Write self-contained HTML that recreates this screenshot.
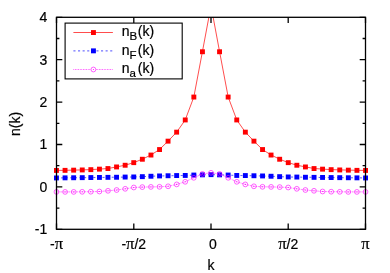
<!DOCTYPE html>
<html><head><meta charset="utf-8"><title>n(k)</title>
<style>
html,body{margin:0;padding:0;background:#fff;}
svg{display:block;will-change:transform;}
text{font-family:"Liberation Sans",sans-serif;font-size:14px;fill:#000;stroke:#000;stroke-width:0.2px;}
.sym{font-family:"Liberation Serif",serif;font-size:16.5px;}
</style></head><body>
<svg width="390" height="273" viewBox="0 0 390 273">
<rect width="390" height="273" fill="#fff"/>
<defs><clipPath id="c"><rect x="56.5" y="17.3" width="309.0" height="212.0"/></clipPath></defs>

<g clip-path="url(#c)">
<polyline points="56.5,170.4 65.1,170.3 73.7,170.1 82.2,169.9 90.8,169.6 99.4,169.1 108.0,168.5 116.6,166.9 125.2,165.2 133.8,162.6 142.3,159.2 150.9,155.0 159.5,149.5 168.1,141.1 176.7,132.1 185.2,120.0 193.8,97.1 202.4,51.8 211.0,5.8 219.6,51.8 228.2,97.1 236.8,120.0 245.3,132.1 253.9,141.1 262.5,149.5 271.1,155.0 279.7,159.2 288.2,162.6 296.8,165.2 305.4,166.9 314.0,168.5 322.6,169.1 331.2,169.6 339.8,169.9 348.3,170.1 356.9,170.3 365.5,170.4" fill="none" stroke="#f00" stroke-width="0.7"/>
</g>
<rect x="54.0" y="168.0" width="4.9" height="4.9" fill="#f00"/>
<rect x="62.6" y="167.9" width="4.9" height="4.9" fill="#f00"/>
<rect x="71.2" y="167.7" width="4.9" height="4.9" fill="#f00"/>
<rect x="79.8" y="167.5" width="4.9" height="4.9" fill="#f00"/>
<rect x="88.4" y="167.2" width="4.9" height="4.9" fill="#f00"/>
<rect x="97.0" y="166.7" width="4.9" height="4.9" fill="#f00"/>
<rect x="105.5" y="166.1" width="4.9" height="4.9" fill="#f00"/>
<rect x="114.1" y="164.5" width="4.9" height="4.9" fill="#f00"/>
<rect x="122.7" y="162.8" width="4.9" height="4.9" fill="#f00"/>
<rect x="131.3" y="160.2" width="4.9" height="4.9" fill="#f00"/>
<rect x="139.9" y="156.8" width="4.9" height="4.9" fill="#f00"/>
<rect x="148.5" y="152.6" width="4.9" height="4.9" fill="#f00"/>
<rect x="157.1" y="147.1" width="4.9" height="4.9" fill="#f00"/>
<rect x="165.6" y="138.7" width="4.9" height="4.9" fill="#f00"/>
<rect x="174.2" y="129.7" width="4.9" height="4.9" fill="#f00"/>
<rect x="182.8" y="117.5" width="4.9" height="4.9" fill="#f00"/>
<rect x="191.4" y="94.6" width="4.9" height="4.9" fill="#f00"/>
<rect x="200.0" y="49.3" width="4.9" height="4.9" fill="#f00"/>
<rect x="217.1" y="49.3" width="4.9" height="4.9" fill="#f00"/>
<rect x="225.7" y="94.6" width="4.9" height="4.9" fill="#f00"/>
<rect x="234.3" y="117.5" width="4.9" height="4.9" fill="#f00"/>
<rect x="242.9" y="129.7" width="4.9" height="4.9" fill="#f00"/>
<rect x="251.5" y="138.7" width="4.9" height="4.9" fill="#f00"/>
<rect x="260.1" y="147.1" width="4.9" height="4.9" fill="#f00"/>
<rect x="268.6" y="152.6" width="4.9" height="4.9" fill="#f00"/>
<rect x="277.2" y="156.8" width="4.9" height="4.9" fill="#f00"/>
<rect x="285.8" y="160.2" width="4.9" height="4.9" fill="#f00"/>
<rect x="294.4" y="162.8" width="4.9" height="4.9" fill="#f00"/>
<rect x="303.0" y="164.5" width="4.9" height="4.9" fill="#f00"/>
<rect x="311.6" y="166.1" width="4.9" height="4.9" fill="#f00"/>
<rect x="320.1" y="166.7" width="4.9" height="4.9" fill="#f00"/>
<rect x="328.7" y="167.2" width="4.9" height="4.9" fill="#f00"/>
<rect x="337.3" y="167.5" width="4.9" height="4.9" fill="#f00"/>
<rect x="345.9" y="167.7" width="4.9" height="4.9" fill="#f00"/>
<rect x="354.5" y="167.9" width="4.9" height="4.9" fill="#f00"/>
<rect x="363.1" y="168.0" width="4.9" height="4.9" fill="#f00"/>
<polyline points="56.5,178.0 65.1,177.8 73.7,177.8 82.2,177.7 90.8,177.6 99.4,177.5 108.0,177.3 116.6,177.2 125.2,177.1 133.8,177.0 142.3,176.7 150.9,176.2 159.5,176.0 168.1,175.8 176.7,175.6 185.2,175.5 193.8,175.1 202.4,174.8 211.0,174.7 219.6,174.8 228.2,175.1 236.8,175.5 245.3,175.6 253.9,175.8 262.5,176.0 271.1,176.2 279.7,176.7 288.2,177.0 296.8,177.1 305.4,177.2 314.0,177.3 322.6,177.5 331.2,177.6 339.8,177.7 348.3,177.8 356.9,177.8 365.5,178.0" fill="none" stroke="#00f" stroke-width="0.65" stroke-dasharray="2.1 2.5"/>
<rect x="54.0" y="175.5" width="4.9" height="4.9" fill="#00f"/>
<rect x="62.6" y="175.4" width="4.9" height="4.9" fill="#00f"/>
<rect x="71.2" y="175.3" width="4.9" height="4.9" fill="#00f"/>
<rect x="79.8" y="175.2" width="4.9" height="4.9" fill="#00f"/>
<rect x="88.4" y="175.1" width="4.9" height="4.9" fill="#00f"/>
<rect x="97.0" y="175.0" width="4.9" height="4.9" fill="#00f"/>
<rect x="105.5" y="174.9" width="4.9" height="4.9" fill="#00f"/>
<rect x="114.1" y="174.8" width="4.9" height="4.9" fill="#00f"/>
<rect x="122.7" y="174.6" width="4.9" height="4.9" fill="#00f"/>
<rect x="131.3" y="174.5" width="4.9" height="4.9" fill="#00f"/>
<rect x="139.9" y="174.2" width="4.9" height="4.9" fill="#00f"/>
<rect x="148.5" y="173.8" width="4.9" height="4.9" fill="#00f"/>
<rect x="157.1" y="173.5" width="4.9" height="4.9" fill="#00f"/>
<rect x="165.6" y="173.3" width="4.9" height="4.9" fill="#00f"/>
<rect x="174.2" y="173.1" width="4.9" height="4.9" fill="#00f"/>
<rect x="182.8" y="173.0" width="4.9" height="4.9" fill="#00f"/>
<rect x="191.4" y="172.6" width="4.9" height="4.9" fill="#00f"/>
<rect x="200.0" y="172.4" width="4.9" height="4.9" fill="#00f"/>
<rect x="208.6" y="172.2" width="4.9" height="4.9" fill="#00f"/>
<rect x="217.1" y="172.4" width="4.9" height="4.9" fill="#00f"/>
<rect x="225.7" y="172.6" width="4.9" height="4.9" fill="#00f"/>
<rect x="234.3" y="173.0" width="4.9" height="4.9" fill="#00f"/>
<rect x="242.9" y="173.1" width="4.9" height="4.9" fill="#00f"/>
<rect x="251.5" y="173.3" width="4.9" height="4.9" fill="#00f"/>
<rect x="260.1" y="173.5" width="4.9" height="4.9" fill="#00f"/>
<rect x="268.6" y="173.8" width="4.9" height="4.9" fill="#00f"/>
<rect x="277.2" y="174.2" width="4.9" height="4.9" fill="#00f"/>
<rect x="285.8" y="174.5" width="4.9" height="4.9" fill="#00f"/>
<rect x="294.4" y="174.6" width="4.9" height="4.9" fill="#00f"/>
<rect x="303.0" y="174.8" width="4.9" height="4.9" fill="#00f"/>
<rect x="311.6" y="174.9" width="4.9" height="4.9" fill="#00f"/>
<rect x="320.1" y="175.0" width="4.9" height="4.9" fill="#00f"/>
<rect x="328.7" y="175.1" width="4.9" height="4.9" fill="#00f"/>
<rect x="337.3" y="175.2" width="4.9" height="4.9" fill="#00f"/>
<rect x="345.9" y="175.3" width="4.9" height="4.9" fill="#00f"/>
<rect x="354.5" y="175.4" width="4.9" height="4.9" fill="#00f"/>
<rect x="363.1" y="175.5" width="4.9" height="4.9" fill="#00f"/>
<polyline points="56.5,191.9 65.1,191.9 73.7,191.9 82.2,191.8 90.8,191.7 99.4,191.5 108.0,190.8 116.6,190.0 125.2,188.8 133.8,187.5 142.3,187.1 150.9,186.9 159.5,186.8 168.1,186.3 176.7,184.4 185.2,181.8 193.8,177.8 202.4,173.9 211.0,172.8 219.6,173.9 228.2,177.8 236.8,181.8 245.3,184.4 253.9,186.3 262.5,186.8 271.1,186.9 279.7,187.1 288.2,187.5 296.8,188.8 305.4,190.0 314.0,190.8 322.6,191.5 331.2,191.7 339.8,191.8 348.3,191.9 356.9,191.9 365.5,191.9" fill="none" stroke="#f0f" stroke-width="0.7" stroke-dasharray="0.8 0.8"/>
<circle cx="56.5" cy="191.9" r="2.4" fill="none" stroke="#f0f" stroke-width="0.62"/><circle cx="56.5" cy="191.9" r="0.55" fill="#f0f"/>
<circle cx="65.1" cy="191.9" r="2.4" fill="none" stroke="#f0f" stroke-width="0.62"/><circle cx="65.1" cy="191.9" r="0.55" fill="#f0f"/>
<circle cx="73.7" cy="191.9" r="2.4" fill="none" stroke="#f0f" stroke-width="0.62"/><circle cx="73.7" cy="191.9" r="0.55" fill="#f0f"/>
<circle cx="82.2" cy="191.8" r="2.4" fill="none" stroke="#f0f" stroke-width="0.62"/><circle cx="82.2" cy="191.8" r="0.55" fill="#f0f"/>
<circle cx="90.8" cy="191.7" r="2.4" fill="none" stroke="#f0f" stroke-width="0.62"/><circle cx="90.8" cy="191.7" r="0.55" fill="#f0f"/>
<circle cx="99.4" cy="191.5" r="2.4" fill="none" stroke="#f0f" stroke-width="0.62"/><circle cx="99.4" cy="191.5" r="0.55" fill="#f0f"/>
<circle cx="108.0" cy="190.8" r="2.4" fill="none" stroke="#f0f" stroke-width="0.62"/><circle cx="108.0" cy="190.8" r="0.55" fill="#f0f"/>
<circle cx="116.6" cy="190.0" r="2.4" fill="none" stroke="#f0f" stroke-width="0.62"/><circle cx="116.6" cy="190.0" r="0.55" fill="#f0f"/>
<circle cx="125.2" cy="188.8" r="2.4" fill="none" stroke="#f0f" stroke-width="0.62"/><circle cx="125.2" cy="188.8" r="0.55" fill="#f0f"/>
<circle cx="133.8" cy="187.5" r="2.4" fill="none" stroke="#f0f" stroke-width="0.62"/><circle cx="133.8" cy="187.5" r="0.55" fill="#f0f"/>
<circle cx="142.3" cy="187.1" r="2.4" fill="none" stroke="#f0f" stroke-width="0.62"/><circle cx="142.3" cy="187.1" r="0.55" fill="#f0f"/>
<circle cx="150.9" cy="186.9" r="2.4" fill="none" stroke="#f0f" stroke-width="0.62"/><circle cx="150.9" cy="186.9" r="0.55" fill="#f0f"/>
<circle cx="159.5" cy="186.8" r="2.4" fill="none" stroke="#f0f" stroke-width="0.62"/><circle cx="159.5" cy="186.8" r="0.55" fill="#f0f"/>
<circle cx="168.1" cy="186.3" r="2.4" fill="none" stroke="#f0f" stroke-width="0.62"/><circle cx="168.1" cy="186.3" r="0.55" fill="#f0f"/>
<circle cx="176.7" cy="184.4" r="2.4" fill="none" stroke="#f0f" stroke-width="0.62"/><circle cx="176.7" cy="184.4" r="0.55" fill="#f0f"/>
<circle cx="185.2" cy="181.8" r="2.4" fill="none" stroke="#f0f" stroke-width="0.62"/><circle cx="185.2" cy="181.8" r="0.55" fill="#f0f"/>
<circle cx="193.8" cy="177.8" r="2.4" fill="none" stroke="#f0f" stroke-width="0.62"/><circle cx="193.8" cy="177.8" r="0.55" fill="#f0f"/>
<circle cx="202.4" cy="173.9" r="2.4" fill="none" stroke="#f0f" stroke-width="0.62"/><circle cx="202.4" cy="173.9" r="0.55" fill="#f0f"/>
<circle cx="211.0" cy="172.8" r="2.4" fill="none" stroke="#f0f" stroke-width="0.62"/><circle cx="211.0" cy="172.8" r="0.55" fill="#f0f"/>
<circle cx="219.6" cy="173.9" r="2.4" fill="none" stroke="#f0f" stroke-width="0.62"/><circle cx="219.6" cy="173.9" r="0.55" fill="#f0f"/>
<circle cx="228.2" cy="177.8" r="2.4" fill="none" stroke="#f0f" stroke-width="0.62"/><circle cx="228.2" cy="177.8" r="0.55" fill="#f0f"/>
<circle cx="236.8" cy="181.8" r="2.4" fill="none" stroke="#f0f" stroke-width="0.62"/><circle cx="236.8" cy="181.8" r="0.55" fill="#f0f"/>
<circle cx="245.3" cy="184.4" r="2.4" fill="none" stroke="#f0f" stroke-width="0.62"/><circle cx="245.3" cy="184.4" r="0.55" fill="#f0f"/>
<circle cx="253.9" cy="186.3" r="2.4" fill="none" stroke="#f0f" stroke-width="0.62"/><circle cx="253.9" cy="186.3" r="0.55" fill="#f0f"/>
<circle cx="262.5" cy="186.8" r="2.4" fill="none" stroke="#f0f" stroke-width="0.62"/><circle cx="262.5" cy="186.8" r="0.55" fill="#f0f"/>
<circle cx="271.1" cy="186.9" r="2.4" fill="none" stroke="#f0f" stroke-width="0.62"/><circle cx="271.1" cy="186.9" r="0.55" fill="#f0f"/>
<circle cx="279.7" cy="187.1" r="2.4" fill="none" stroke="#f0f" stroke-width="0.62"/><circle cx="279.7" cy="187.1" r="0.55" fill="#f0f"/>
<circle cx="288.2" cy="187.5" r="2.4" fill="none" stroke="#f0f" stroke-width="0.62"/><circle cx="288.2" cy="187.5" r="0.55" fill="#f0f"/>
<circle cx="296.8" cy="188.8" r="2.4" fill="none" stroke="#f0f" stroke-width="0.62"/><circle cx="296.8" cy="188.8" r="0.55" fill="#f0f"/>
<circle cx="305.4" cy="190.0" r="2.4" fill="none" stroke="#f0f" stroke-width="0.62"/><circle cx="305.4" cy="190.0" r="0.55" fill="#f0f"/>
<circle cx="314.0" cy="190.8" r="2.4" fill="none" stroke="#f0f" stroke-width="0.62"/><circle cx="314.0" cy="190.8" r="0.55" fill="#f0f"/>
<circle cx="322.6" cy="191.5" r="2.4" fill="none" stroke="#f0f" stroke-width="0.62"/><circle cx="322.6" cy="191.5" r="0.55" fill="#f0f"/>
<circle cx="331.2" cy="191.7" r="2.4" fill="none" stroke="#f0f" stroke-width="0.62"/><circle cx="331.2" cy="191.7" r="0.55" fill="#f0f"/>
<circle cx="339.8" cy="191.8" r="2.4" fill="none" stroke="#f0f" stroke-width="0.62"/><circle cx="339.8" cy="191.8" r="0.55" fill="#f0f"/>
<circle cx="348.3" cy="191.9" r="2.4" fill="none" stroke="#f0f" stroke-width="0.62"/><circle cx="348.3" cy="191.9" r="0.55" fill="#f0f"/>
<circle cx="356.9" cy="191.9" r="2.4" fill="none" stroke="#f0f" stroke-width="0.62"/><circle cx="356.9" cy="191.9" r="0.55" fill="#f0f"/>
<circle cx="365.5" cy="191.9" r="2.4" fill="none" stroke="#f0f" stroke-width="0.62"/><circle cx="365.5" cy="191.9" r="0.55" fill="#f0f"/>
<rect x="65.1" y="23.1" width="117.1" height="55.8" fill="#fff" stroke="#000" stroke-width="1.1"/>
<line x1="73.4" y1="32.5" x2="112.9" y2="32.5" stroke="#f00" stroke-width="0.7"/>
<rect x="91.0" y="30.1" width="4.9" height="4.9" fill="#f00"/>
<text y="36.2" font-size="14.4"><tspan x="121.8">n</tspan><tspan font-size="11.5" dy="4.2">B</tspan><tspan x="137.8" dy="-4.2">(k)</tspan></text>
<line x1="73.4" y1="50.9" x2="112.9" y2="50.9" stroke="#00f" stroke-width="0.7" stroke-dasharray="2.1 2.5"/>
<rect x="91.0" y="48.4" width="4.9" height="4.9" fill="#00f"/>
<text y="54.6" font-size="14.4"><tspan x="121.8">n</tspan><tspan font-size="11.5" dy="4.2">F</tspan><tspan x="137.8" dy="-4.2">(k)</tspan></text>
<line x1="73.4" y1="69.5" x2="112.9" y2="69.5" stroke="#f0f" stroke-width="0.7" stroke-dasharray="0.8 0.8"/>
<circle cx="93.4" cy="69.5" r="2.4" fill="#fff" stroke="#f0f" stroke-width="0.62"/><circle cx="93.4" cy="69.5" r="0.55" fill="#f0f"/>
<text y="73.2" font-size="14.4"><tspan x="121.8">n</tspan><tspan font-size="11.5" dy="4.2">a</tspan><tspan x="137.8" dy="-4.2">(k)</tspan></text>
<g stroke="#000" stroke-width="1.3" fill="none">
<rect x="56.5" y="17.3" width="309.0" height="212.0"/>
<path d="M56.5 229.3h5.8 M365.5 229.3h-5.8"/>
<path d="M56.5 208.1h2.9 M365.5 208.1h-2.9"/>
<path d="M56.5 186.9h5.8 M365.5 186.9h-5.8"/>
<path d="M56.5 165.7h2.9 M365.5 165.7h-2.9"/>
<path d="M56.5 144.5h5.8 M365.5 144.5h-5.8"/>
<path d="M56.5 123.3h2.9 M365.5 123.3h-2.9"/>
<path d="M56.5 102.1h5.8 M365.5 102.1h-5.8"/>
<path d="M56.5 80.9h2.9 M365.5 80.9h-2.9"/>
<path d="M56.5 59.7h5.8 M365.5 59.7h-5.8"/>
<path d="M56.5 38.5h2.9 M365.5 38.5h-2.9"/>
<path d="M56.5 17.3h5.8 M365.5 17.3h-5.8"/>
<path d="M56.5 229.3v-5.8 M56.5 17.3v5.8"/>
<path d="M133.8 229.3v-5.8 M133.8 17.3v5.8"/>
<path d="M211.0 229.3v-5.8 M211.0 17.3v5.8"/>
<path d="M288.2 229.3v-5.8 M288.2 17.3v5.8"/>
<path d="M365.5 229.3v-5.8 M365.5 17.3v5.8"/>
</g>
<text x="47.3" y="234.2" text-anchor="end">-1</text>
<text x="47.3" y="191.7" text-anchor="end">0</text>
<text x="47.3" y="149.3" text-anchor="end">1</text>
<text x="47.3" y="106.9" text-anchor="end">2</text>
<text x="47.3" y="64.5" text-anchor="end">3</text>
<text x="47.3" y="22.1" text-anchor="end">4</text>
<text x="56.5" y="249" text-anchor="middle">-<tspan class="sym">π</tspan></text>
<text x="133.8" y="249" text-anchor="middle">-<tspan class="sym">π</tspan>/2</text>
<text x="212.9" y="249" text-anchor="middle">0</text>
<text x="288.2" y="249" text-anchor="middle"><tspan class="sym">π</tspan>/2</text>
<text x="365.5" y="249" text-anchor="middle"><tspan class="sym">π</tspan></text>
<text x="211" y="270.3" text-anchor="middle">k</text>
<text transform="translate(19.7 124) rotate(-90)" text-anchor="middle">n(k)</text>
</svg></body></html>
